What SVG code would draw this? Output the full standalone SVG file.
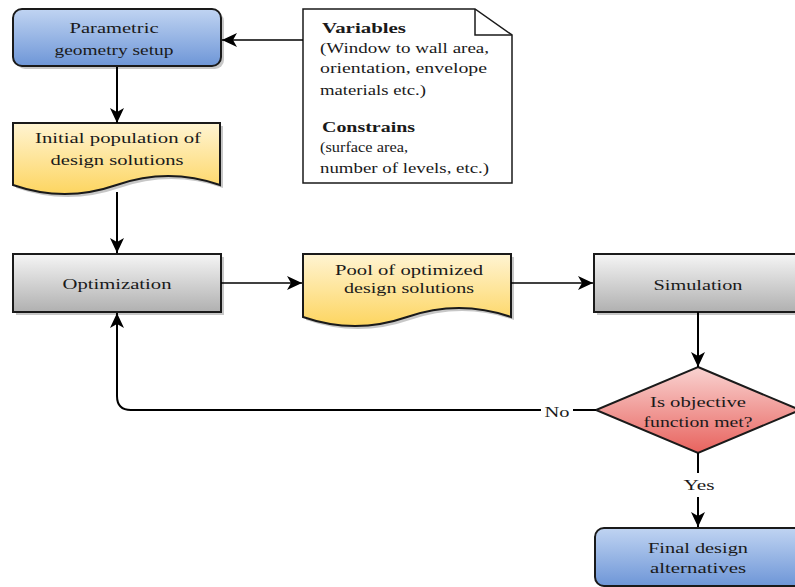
<svg xmlns="http://www.w3.org/2000/svg" width="795" height="587" viewBox="0 0 795 587">
<style>
.t{font-family:"Liberation Serif","Times New Roman",serif;font-size:15px;fill:#1a1a1a;text-anchor:middle}
.nt{font-family:"Liberation Serif","Times New Roman",serif;font-size:15px;fill:#1a1a1a}
.b{font-weight:bold}
.box{stroke:#1a1a1a;stroke-width:2}
.sh{fill:#000;opacity:0.22}
.c{fill:none;stroke:#000;stroke-width:2}
.ch{fill:none;stroke:#000;stroke-width:1.5}
</style>
<defs>
<linearGradient id="gBlue" x1="0" y1="0" x2="0" y2="1"><stop offset="0" stop-color="#c0d4f2"/><stop offset="1" stop-color="#6e96d7"/></linearGradient>
<linearGradient id="gGray" x1="0" y1="0" x2="0" y2="1"><stop offset="0" stop-color="#f5f5f5"/><stop offset="1" stop-color="#b0b0b0"/></linearGradient>
<linearGradient id="gYel" x1="0" y1="0" x2="0" y2="1"><stop offset="0" stop-color="#fff4d2"/><stop offset="1" stop-color="#fdd560"/></linearGradient>
<linearGradient id="gRed" x1="0" y1="0" x2="0" y2="1"><stop offset="0" stop-color="#f9d3d1"/><stop offset="1" stop-color="#e8635e"/></linearGradient>
<marker id="arr" markerWidth="15" markerHeight="14" refX="15" refY="7" orient="auto" markerUnits="userSpaceOnUse"><path d="M0,0 L15,7 L0,14 L4,7 Z" fill="#000"/></marker>
</defs>
<rect width="795" height="587" fill="#fff"/>

<g id="parametric">
<rect class="sh" x="16" y="12" width="208" height="57" rx="9"/>
<rect class="box" x="13" y="9" width="208" height="57" rx="9" fill="url(#gBlue)"/>
<text class="t" x="114" y="33" textLength="89" lengthAdjust="spacingAndGlyphs">Parametric</text>
<text class="t" x="114" y="55" textLength="119" lengthAdjust="spacingAndGlyphs">geometry setup</text>
</g>

<g id="variables">
<path d="M303,9 L475,9 L512,35 L512,183 L303,183 Z" fill="#fff" stroke="#1a1a1a" stroke-width="1.5"/>
<path d="M475,9 L475,35 L512,35" fill="none" stroke="#1a1a1a" stroke-width="1.5"/>
<text class="nt b" x="322" y="33" textLength="84" lengthAdjust="spacingAndGlyphs">Variables</text>
<text class="nt" x="320" y="53" textLength="169" lengthAdjust="spacingAndGlyphs">(Window to wall area,</text>
<text class="nt" x="320" y="73" textLength="167" lengthAdjust="spacingAndGlyphs">orientation, envelope</text>
<text class="nt" x="320" y="95" textLength="106" lengthAdjust="spacingAndGlyphs">materials etc.)</text>
<text class="nt b" x="322" y="132" textLength="93" lengthAdjust="spacingAndGlyphs">Constrains</text>
<text class="nt" x="320" y="152" textLength="88" lengthAdjust="spacingAndGlyphs">(surface area,</text>
<text class="nt" x="320" y="173" textLength="169" lengthAdjust="spacingAndGlyphs">number of levels, etc.)</text>
</g>

<g id="initial">
<path class="sh" d="M16,126 H223 V188 Q 171.25,170 119.5,188 Q 67.75,206 16,188 Z"/>
<path class="box" d="M13,123 H220 V185 Q 168.25,167 116.5,185 Q 64.75,203 13,185 Z" fill="url(#gYel)"/>
<text class="t" x="118" y="143" textLength="166" lengthAdjust="spacingAndGlyphs">Initial population of</text>
<text class="t" x="117" y="165" textLength="133" lengthAdjust="spacingAndGlyphs">design solutions</text>
</g>

<g id="optimization">
<rect class="sh" x="16" y="257" width="208" height="58"/>
<rect class="box" x="13" y="254" width="208" height="58" fill="url(#gGray)"/>
<text class="t" x="117" y="289" textLength="109" lengthAdjust="spacingAndGlyphs">Optimization</text>
</g>

<g id="pool">
<path class="sh" d="M306,257 H514 V320 Q 462,302 410,320 Q 358,338 306,320 Z"/>
<path class="box" d="M303,254 H511 V317 Q 459,299 407,317 Q 355,335 303,317 Z" fill="url(#gYel)"/>
<text class="t" x="409" y="275" textLength="148" lengthAdjust="spacingAndGlyphs">Pool of optimized</text>
<text class="t" x="409" y="293" textLength="130" lengthAdjust="spacingAndGlyphs">design solutions</text>
</g>

<g id="simulation">
<rect class="sh" x="597" y="257" width="208" height="58"/>
<rect class="box" x="594" y="254" width="208" height="58" fill="url(#gGray)"/>
<text class="t" x="698" y="290" textLength="89" lengthAdjust="spacingAndGlyphs">Simulation</text>
</g>

<g id="decision">
<path class="box" d="M698,367 L800,410 L698,453 L596,410 Z" fill="url(#gRed)"/>
<text class="t" x="698" y="407" textLength="96" lengthAdjust="spacingAndGlyphs">Is objective</text>
<text class="t" x="698" y="427" textLength="109" lengthAdjust="spacingAndGlyphs">function met?</text>
</g>

<g id="final">
<rect class="sh" x="598" y="531" width="208" height="58" rx="9"/>
<rect class="box" x="595" y="528" width="208" height="58" rx="9" fill="url(#gBlue)"/>
<text class="t" x="698" y="553" textLength="100" lengthAdjust="spacingAndGlyphs">Final design</text>
<text class="t" x="698" y="573" textLength="96" lengthAdjust="spacingAndGlyphs">alternatives</text>
</g>

<g id="connectors">
<path class="ch" d="M303,40 L222,40" marker-end="url(#arr)"/>
<path class="c" d="M117,67 L117,123" marker-end="url(#arr)"/>
<path class="c" d="M117,192 L117,253" marker-end="url(#arr)"/>
<path class="ch" d="M221,283 L302,283" marker-end="url(#arr)"/>
<path class="ch" d="M511,283 L593,283" marker-end="url(#arr)"/>
<path class="c" d="M698,312 L698,367" marker-end="url(#arr)"/>
<path class="c" d="M596,410 L131,410 Q117,410 117,396 L117,313" marker-end="url(#arr)"/>
<rect x="541" y="401" width="32" height="18" fill="#fff"/>
<text class="t" x="557" y="417" textLength="25" lengthAdjust="spacingAndGlyphs">No</text>
<path class="c" d="M698,453 L698,527" marker-end="url(#arr)"/>
<rect x="681" y="473" width="36" height="24" fill="#fff"/>
<text class="t" x="699" y="490" textLength="31" lengthAdjust="spacingAndGlyphs">Yes</text>
</g>
</svg>
